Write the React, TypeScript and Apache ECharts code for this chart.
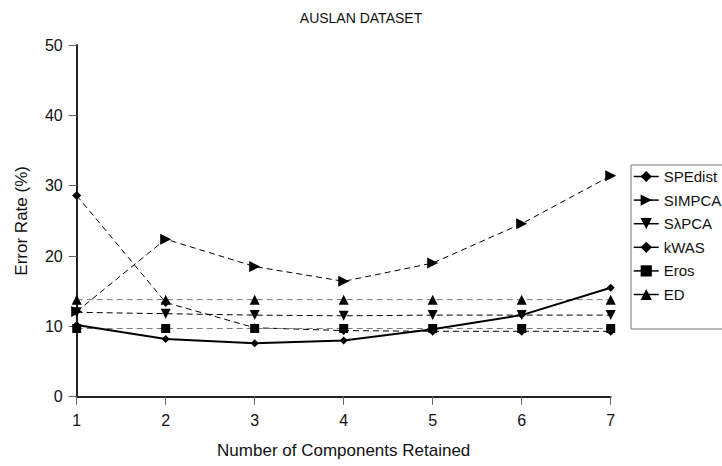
import React, { useEffect, useRef } from "react";
import * as echarts from "echarts";

const categories = ["1", "2", "3", "4", "5", "6", "7"];
const seriesNames = ["SPEdist", "SIMPCA", "SλPCA", "kWAS", "Eros", "ED"];
const spedist = [10.2, 8.2, 7.6, 8.0, 9.6, 11.6, 15.5];
const simpca = [12.1, 22.4, 18.5, 16.4, 19.0, 24.6, 31.4];
const slpca = [12.0, 11.8, 11.6, 11.5, 11.6, 11.6, 11.6];
const kwas = [28.6, 13.4, 9.8, 9.4, 9.3, 9.3, 9.3];
const eros = [9.7, 9.7, 9.7, 9.7, 9.7, 9.7, 9.7];
const ed = [13.8, 13.8, 13.8, 13.8, 13.8, 13.8, 13.8];
const yTicks = { min: 0, max: 50, interval: 10 };

const FONT = "Liberation Sans, Arial, sans-serif";

export default function App() {
  const ref = useRef<HTMLDivElement>(null);
  useEffect(() => {
    if (!ref.current) return;
    const chart = echarts.init(ref.current, null, { renderer: "svg" });
    const dashed = (name: string, data: number[], symbol: string, size: number, lineColor: string) => ({
      name,
      type: "line",
      data,
      symbol,
      symbolSize: size,
      itemStyle: { color: "#000" },
      lineStyle: { color: lineColor, width: 1, type: [6, 4] },
      z: 3,
    });
    chart.setOption({
      animation: false,
      backgroundColor: "#fff",
      textStyle: { fontFamily: FONT },
      title: {
        text: "AUSLAN DATASET",
        left: "center",
        top: 6,
        textStyle: { fontFamily: FONT, fontSize: 14, fontWeight: "normal", color: "#111" },
      },
      grid: { left: 76.7, right: 111.3, top: 45, bottom: 69.3, containLabel: false },
      legend: {
        orient: "vertical",
        left: 631,
        top: 165,
        padding: [4, 10, 27, 2],
        itemWidth: 25,
        itemHeight: 14,
        itemGap: 8.6,
        borderColor: "#777",
        borderWidth: 1,
        data: seriesNames,
        lineStyle: { type: "solid", color: "#000", width: 1.5 },
        textStyle: { fontFamily: FONT, fontSize: 15, lineHeight: 14, color: "#111" },
      },
      xAxis: {
        type: "category",
        data: categories,
        boundaryGap: false,
        name: "Number of Components Retained",
        nameLocation: "middle",
        nameGap: 45,
        nameTextStyle: { fontFamily: FONT, fontSize: 17, color: "#111" },
        axisLine: { lineStyle: { color: "#222", width: 2 } },
        axisTick: { alignWithLabel: true, length: 8, lineStyle: { color: "#666", width: 1 } },
        axisLabel: { margin: 16, fontFamily: FONT, fontSize: 16, color: "#111" },
        splitLine: { show: false },
      },
      yAxis: {
        type: "value",
        min: yTicks.min,
        max: yTicks.max,
        interval: yTicks.interval,
        name: "Error Rate (%)",
        nameLocation: "middle",
        nameGap: 47,
        nameTextStyle: { fontFamily: FONT, fontSize: 17, color: "#111" },
        axisLine: { show: true, lineStyle: { color: "#222", width: 2 } },
        axisTick: { show: true, length: 8, lineStyle: { color: "#666", width: 1 } },
        axisLabel: { margin: 14, fontFamily: FONT, fontSize: 16, color: "#111" },
        splitLine: { show: false },
      },
      series: [
        {
          name: "SPEdist",
          type: "line",
          data: spedist,
          symbol: "diamond",
          symbolSize: 8,
          itemStyle: { color: "#000" },
          lineStyle: { color: "#000", width: 2 },
          z: 5,
        },
        dashed("SIMPCA", simpca, "path://M0,0 L10,5 L0,10 Z", 11, "#000"),
        dashed("SλPCA", slpca, "path://M0,0 L10,0 L5,10 Z", 10, "#000"),
        dashed("kWAS", kwas, "diamond", 9, "#000"),
        dashed("Eros", eros, "rect", 9, "#777"),
        dashed("ED", ed, "triangle", 10, "#777"),
      ],
    });
    return () => chart.dispose();
  }, []);
  return (
    <div
      ref={ref}
      style={{ position: "absolute", left: 0, top: 0, width: 722, height: 466 }}
    />
  );
}
